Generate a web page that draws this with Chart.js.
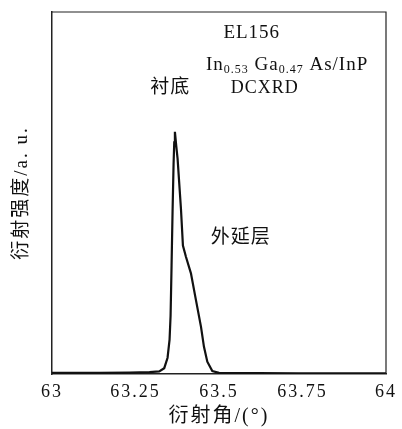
<!DOCTYPE html>
<html>
<head>
<meta charset="utf-8">
<script src="https://cdn.jsdelivr.net/npm/chart.js@4"></script>
<style>
  html, body { margin: 0; padding: 0; background: #fff; }
  #wrap { width: 402px; height: 429px; }
</style>
</head>
<body>
<div id="wrap"><canvas id="c"></canvas></div>
<script>
// diffraction angle (deg) and intensity (a.u.)
const angles = [63.000, 63.143, 63.232, 63.292, 63.321, 63.336, 63.346, 63.352, 63.355, 63.358,
                63.361, 63.364, 63.366, 63.368, 63.372, 63.376, 63.386, 63.392, 63.401, 63.416,
                63.431, 63.446, 63.455, 63.465, 63.480, 63.500, 63.738, 64.000];
const intensity = [0.3, 0.3, 0.4, 0.5, 0.7, 1.6, 4.5, 9.5, 16.0, 30.0,
                   45.0, 58.0, 64.0, 66.9, 63.0, 59.5, 45.8, 35.5, 32.4, 27.8,
                   20.4, 13.1, 7.5, 3.4, 0.8, 0.3, 0.2, 0.2];
const xTicks = [63, 63.25, 63.5, 63.75, 64];
const xTickLabels = ['63', '63.25', '63.5', '63.75', '64'];

// text notes, placed in data units
const notes = [
  { text: 'EL156', x: 63.598, y: 94.2, size: 19 },
  { text: '衬底', x: 63.354, y: 79.0, size: 19 },
  { text: 'DCXRD', x: 63.637, y: 79.0, size: 18 },
  { text: '外延层', x: 63.565, y: 37.6, size: 19 }
];
const formula = { x: 63.461, y: 85.4, parts: [['In', false], ['0.53', true], [' Ga', false], ['0.47', true], [' As/InP', false]] };

const serif = "'Liberation Serif', 'DejaVu Serif', 'Noto Sans CJK SC', serif";

const boxAndNotes = {
  id: 'boxAndNotes',
  beforeDraw(chart) {
    chart.ctx.letterSpacing = '2px';
  },
  afterDraw(chart) {
    const { ctx, chartArea: a, scales } = chart;
    ctx.save();
    // frame top and right
    ctx.strokeStyle = '#222';
    ctx.lineWidth = 1.2;
    ctx.beginPath();
    ctx.moveTo(a.left, a.top);
    ctx.lineTo(a.right, a.top);
    ctx.lineTo(a.right, a.bottom);
    ctx.stroke();

    ctx.letterSpacing = '1px';
    ctx.fillStyle = '#111';
    ctx.textBaseline = 'middle';
    ctx.textAlign = 'center';
    notes.forEach(n => {
      ctx.font = n.size + 'px ' + serif;
      ctx.fillText(n.text, scales.x.getPixelForValue(n.x), scales.y.getPixelForValue(n.y));
    });

    // formula with subscripts
    ctx.textAlign = 'left';
    let px = scales.x.getPixelForValue(formula.x);
    const py = scales.y.getPixelForValue(formula.y);
    formula.parts.forEach(([t, sub]) => {
      ctx.font = (sub ? '12px ' : '19px ') + serif;
      ctx.fillText(t, px, sub ? py + 5 : py);
      px += ctx.measureText(t).width;
    });
    ctx.restore();
  }
};

new Chart(document.getElementById('c'), {
  type: 'line',
  data: {
    datasets: [{
      data: angles.map((a, i) => ({ x: a, y: intensity[i] })),
      borderColor: '#111',
      borderWidth: 2.2,
      pointRadius: 0,
      tension: 0,
      fill: false
    }]
  },
  options: {
    responsive: true,
    maintainAspectRatio: false,
    animation: false,
    devicePixelRatio: 1,
    layout: { padding: { left: 0, right: 14, top: 12, bottom: 0 } },
    plugins: { legend: { display: false }, tooltip: { enabled: false } },
    scales: {
      x: {
        type: 'linear',
        min: 63,
        max: 64,
        afterBuildTicks: s => { s.ticks = xTicks.map(v => ({ value: v })); },
        afterFit: s => { s.height = 55; },
        grid: { display: false, drawTicks: false },
        border: { display: true, color: '#222', width: 1.5 },
        ticks: {
          color: '#111',
          padding: 7,
          maxRotation: 0,
          autoSkip: false,
          font: { family: serif, size: 18 },
          callback: (v, i) => xTickLabels[i]
        },
        title: {
          display: true,
          text: '衍射角/(°)',
          color: '#111',
          font: { family: serif, size: 20 },
          padding: { top: 0, bottom: 0 }
        }
      },
      y: {
        min: 0,
        max: 100,
        afterFit: s => { s.width = 52; },
        grid: { display: false, drawTicks: false },
        border: { display: true, color: '#222', width: 1.5 },
        ticks: { display: false },
        title: {
          display: true,
          text: '衍射强度/a. u.',
          color: '#111',
          font: { family: serif, size: 19 },
          padding: { top: 11, bottom: 0 }
        }
      }
    }
  },
  plugins: [boxAndNotes]
});
</script>
</body>
</html>
